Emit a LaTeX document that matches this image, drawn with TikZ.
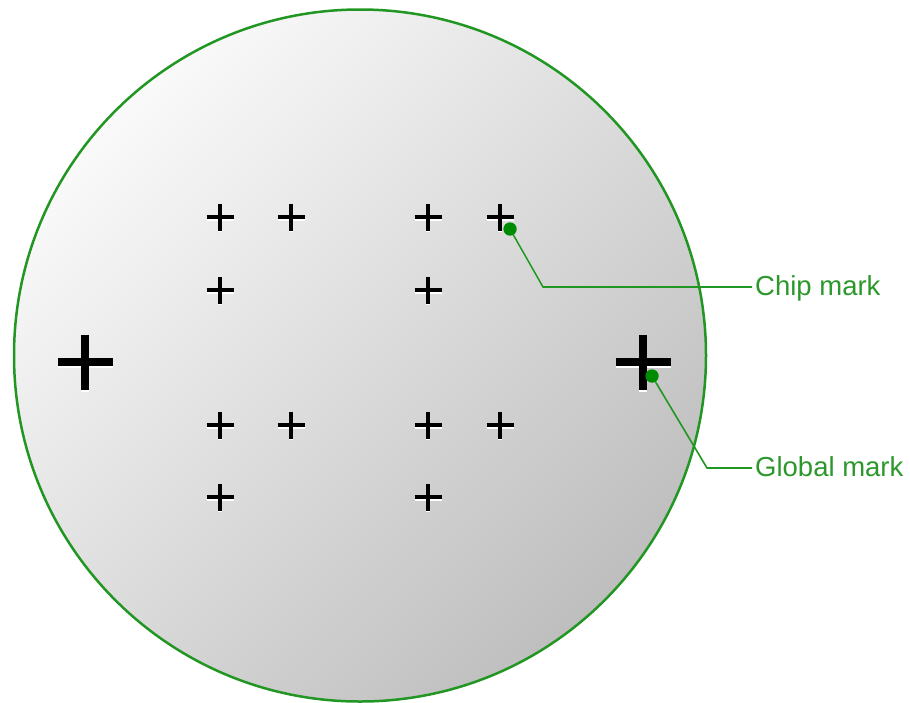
\documentclass[tikz,border=0pt]{standalone}
\usepackage{fontspec}
\setmainfont{Liberation Sans}
\definecolor{rimgreen}{RGB}{34,150,34}
\definecolor{labelgreen}{RGB}{44,152,44}
\definecolor{dotgreen}{RGB}{0,140,0}
\definecolor{waferlight}{RGB}{250,250,250}
\definecolor{waferdark}{RGB}{190,190,190}
\tikzset{
  pics/smallcross/.style={code={
    \draw[white, line width=4.2pt] (-13.5,1.6) -- (13.5,1.6) (0,-12) -- (0,15.2);
    \draw[black, line width=4.2pt] (-13.5,0) -- (13.5,0) (0,-13.5) -- (0,13.5);
  }},
  pics/bigcross/.style={code={
    \draw[white, line width=7.5pt] (-27.5,2) -- (27.5,2) (0,-25.5) -- (0,29.5);
    \draw[black, line width=7.5pt] (-27.5,0) -- (27.5,0) (0,-27.5) -- (0,27.5);
  }},
  dotnode/.style={circle, fill=dotgreen, inner sep=0pt, minimum size=13pt},
  labelnode/.style={text=labelgreen, inner sep=0pt, font=\fontsize{27.5}{30}\selectfont},
  leader/.style={draw=rimgreen, line width=1.6pt},
  leadershadow/.style={draw=white, line width=1.6pt, yshift=-1.2pt}
}
\begin{document}
\begin{tikzpicture}[x=1pt, y=-1pt]
\useasboundingbox (0,0) rectangle (910,702);

% wafer disc
\shade[top color=waferlight, bottom color=waferdark, shading angle=45]
  (360,355.5) circle (346pt);
\draw[rimgreen, line width=2.5pt] (360,355.5) circle (346pt);

% chip alignment marks
\foreach \cx/\cy in {220/217, 291/217, 428/217, 500/217,
                     220/290, 428/290,
                     220/425, 291/425, 428/425, 500/425,
                     220/497, 428/497}
  \pic at (\cx,\cy) {smallcross};

% global alignment marks
\pic at (85,362) {bigcross};
\pic at (643,362) {bigcross};

% labels and leaders
\node[labelnode, anchor=base west] (chiplabel) at (755,295) {Chip mark};
\node[labelnode, anchor=base west] (globallabel) at (755,476) {Global mark};

\node[dotnode] (chipdot) at (510,229) {};
\node[dotnode] (globaldot) at (652,376) {};
\coordinate (chipbend) at (543,287);
\coordinate (globalbend) at (707,468);
\coordinate (chipend) at (752,287);
\coordinate (globalend) at (752,468);

\draw[leadershadow] (chipdot.center) -- (chipbend) -- (chipend);
\draw[leader] (chipdot.center) -- (chipbend) -- (chipend);
\draw[leader] (globaldot.center) -- (globalbend) -- (globalend);
\node[dotnode] at (chipdot.center) {};
\node[dotnode] at (globaldot.center) {};
\end{tikzpicture}
\end{document}
